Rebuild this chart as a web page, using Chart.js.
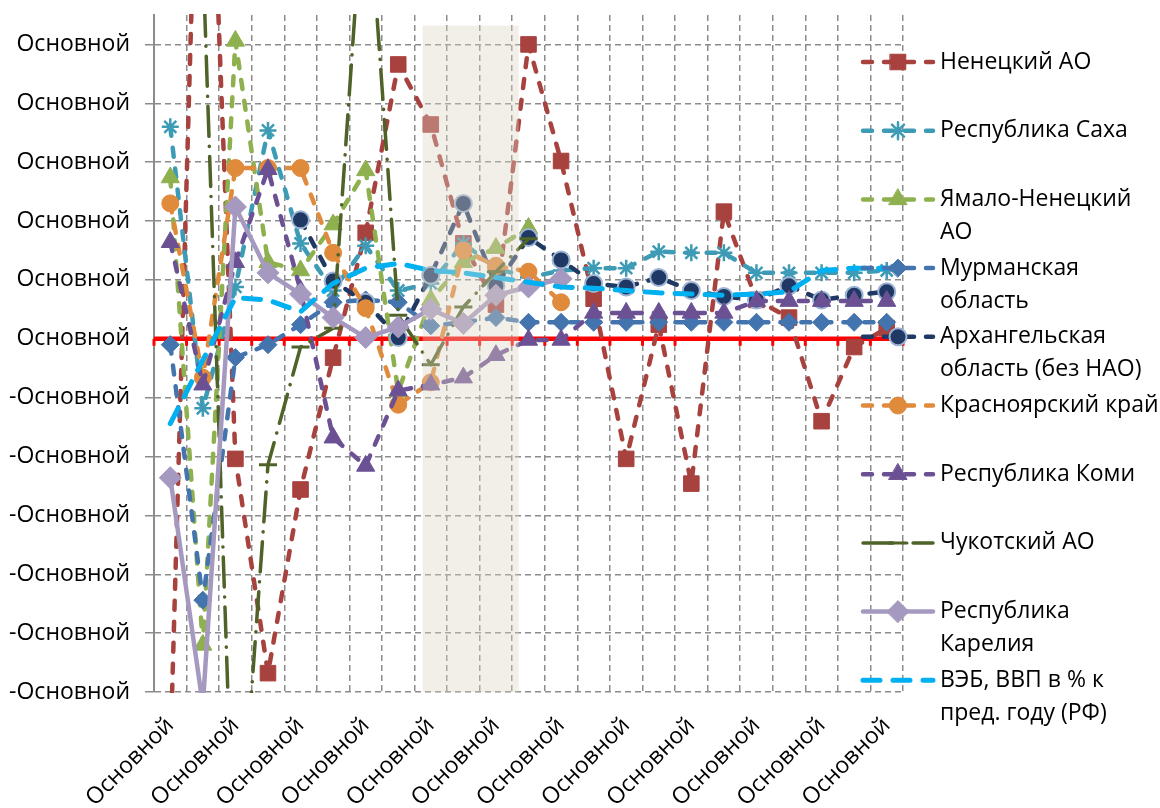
<!DOCTYPE html>
<html>
<head>
<meta charset="utf-8">
<script src="https://cdn.jsdelivr.net/npm/chart.js@4.4.0/dist/chart.umd.min.js"></script>
<style>
  html, body { margin: 0; padding: 0; background: #fff; }
  #wrap { width: 1160px; height: 808px; position: relative; }
</style>
</head>
<body>
<div id="wrap"><canvas id="myChart"></canvas></div>
<script>
// categories (labels are shown as "Основной" in the source, every 2nd one)
var categories = ["Основной","Основной","Основной","Основной","Основной","Основной",
  "Основной","Основной","Основной","Основной","Основной","Основной","Основной",
  "Основной","Основной","Основной","Основной","Основной","Основной","Основной",
  "Основной","Основной","Основной"];

// series values..................
var nenets = [-35.5, 62, -10.2, -28.4, -12.8, -1.6, 9.0, 23.3, 18.2, 8.1, 2.9, 25.0,
  15.1, 3.4, -10.2, 1.2, -12.3, 10.8, 3.3, 1.8, -7.0, -0.7, 0.9];
var sakha = [18.0, -5.9, 4.4, 17.7, 8.1, 4.1, 7.9, 4.1, 4.7, 8.1, 6.0, 5.2,
  5.8, 6.0, 6.0, 7.4, 7.3, 7.3, 5.6, 5.6, 5.6, 5.6, 5.8];
var yamal = [13.7, -26.0, 25.3, 6.5, 5.8, 9.7, 14.3, -4.5, 3.3, 6.5, 7.7, 9.4];
var murmansk = [-0.5, -22.2, -1.6, -0.5, 1.2, 3.1, 3.3, 3.1, 1.1, 1.4, 1.8, 1.4,
  1.4, 1.4, 1.4, 1.4, 1.4, 1.4, 1.4, 1.4, 1.4, 1.4, 1.4];
var arkhangelsk = [null, null, null, null, 10.1, 4.9, 3.1, 0.1, 5.4, 11.5, 4.5, 8.6,
  6.7, 4.7, 4.4, 5.2, 4.1, 3.6, 3.3, 4.5, 3.3, 3.7, 4.0];
var krasnoyarsk = [11.5, -3.3, 14.5, 14.5, 14.5, 7.3, 2.6, -5.6, -3.7, 7.5, 6.2, 5.7, 3.1];
var komi = [8.2, -3.9, 6.5, 14.4, 4.1, -8.4, -10.8, -4.4, -3.9, -3.3, -1.4, -0.1,
  -0.1, 2.2, 2.2, 2.2, 2.2, 2.2, 3.2, 3.2, 3.2, 3.2, 3.2];
var chukotka = [null, 32.5, -48.9, -10.7, -0.7, 0.9, 40.9, 2.0, -2.2, 2.7, 5.7, 8.5];
var karelia = [-11.8, -31.1, 11.2, 5.6, 3.8, 1.8, 0.1, 1.0, 2.5, 1.3, 3.7, 4.4, 5.1];
var veb = [-7.2, -1.8, 3.5, 3.3, 2.3, 4.7, 6.0, 6.4, 5.8, 5.6, 5.2, 4.8,
  4.4, 4.3, 4.1, 3.9, 3.8, 3.7, 3.8, 4.0, 5.8, 6.0, 6.0];

// shaded period (category units) and its top (value units)
var shadeFrom = 7.75;
var shadeTo = 10.7;
var shadeTop = 26.6;

var FONT = '"Open Sans", "Noto Sans", sans-serif';
var FONT_SIZE = 23;
var GRID = '#8c8c8c';

function series(label, data, color, style, extra) {
  var ds = {
    label: label,
    data: data,
    borderColor: color,
    backgroundColor: color,
    borderWidth: 4.5,
    borderDash: [9, 12],
    borderCapStyle: 'round',
    borderJoinStyle: 'round',
    pointStyle: style,
    pointRadius: 8,
    pointBackgroundColor: color,
    pointBorderColor: color,
    pointBorderWidth: 1,
    tension: 0,
    spanGaps: false,
    clip: 1
  };
  for (var k in extra) ds[k] = extra[k];
  return ds;
}

var datasets = [
  series('Ненецкий АО', nenets, '#A8423F', 'rect', {pointRadius: 11}),
  series('Республика Саха', sakha, '#3D9BB6', 'star', {pointRadius: 8.5, pointBorderWidth: 2.5}),
  series('Ямало-Ненецкий АО', yamal, '#8EB04E', 'triangle', {pointRadius: 10.5}),
  series('Мурманская область', murmansk, '#4474AE', 'rectRot', {pointRadius: 9}),
  series('Архангельская область (без НАО)', arkhangelsk, '#1F3864', 'circle',
    {pointRadius: 8.5, pointBorderColor: '#9DB3D3', pointBorderWidth: 2}),
  series('Красноярский край', krasnoyarsk, '#E08A3C', 'circle', {pointRadius: 8.5}),
  series('Республика Коми', komi, '#6B5194', 'triangle', {pointRadius: 10.5}),
  series('Чукотский АО', chukotka, '#4F6228', 'line',
    {borderWidth: 3.5, borderDash: [30, 10, 0.1, 10], pointRadius: 9, pointBorderWidth: 3}),
  series('Республика Карелия', karelia, '#A599C0', 'rectRot',
    {borderWidth: 4.5, borderDash: [], pointRadius: 11}),
  series('ВЭБ, ВВП в % к пред. году (РФ)', veb, '#00B0F0', 'circle',
    {borderWidth: 5, borderDash: [17, 13], pointRadius: 0})
];
// Excel style: later series on top
datasets.forEach(function (d, i) { d.order = datasets.length - i; });

// red zero axis with tick marks
var zeroAxis = {
  id: 'zeroAxis',
  beforeDatasetsDraw: function (chart) {
    var ctx = chart.ctx, xs = chart.scales.x, ys = chart.scales.y, area = chart.chartArea;
    var y0 = ys.getPixelForValue(0);
    ctx.save();
    ctx.strokeStyle = '#FF0000';
    ctx.lineWidth = 4.5;
    ctx.beginPath();
    ctx.moveTo(area.left, y0);
    ctx.lineTo(area.right, y0);
    ctx.stroke();
    ctx.lineWidth = 3;
    for (var i = 0; i <= categories.length; i++) {
      var x = xs.getPixelForValue(i - 0.5);
      ctx.beginPath();
      ctx.moveTo(x, y0);
      ctx.lineTo(x, y0 + 7);
      ctx.stroke();
    }
    ctx.restore();
  }
};

// shaded period drawn over the lines
var shade = {
  id: 'shade',
  afterDatasetsDraw: function (chart) {
    var ctx = chart.ctx, xs = chart.scales.x, ys = chart.scales.y, area = chart.chartArea;
    var xa = xs.getPixelForValue(shadeFrom), xb = xs.getPixelForValue(shadeTo);
    var yt = ys.getPixelForValue(shadeTop);
    ctx.save();
    ctx.fillStyle = 'rgba(222,213,194,0.38)';
    ctx.fillRect(xa, yt, xb - xa, area.bottom - yt);
    ctx.restore();
  }
};

function wrapText(ctx, text, maxW) {
  var words = text.split(' '), lines = [], cur = '';
  words.forEach(function (w) {
    var test = cur ? cur + ' ' + w : w;
    if (ctx.measureText(test).width > maxW && cur) {
      lines.push(cur);
      cur = w;
    } else {
      cur = test;
    }
  });
  if (cur) lines.push(cur);
  return lines;
}

// legend on the right
var sideLegend = {
  id: 'sideLegend',
  afterDraw: function (chart) {
    var ctx = chart.ctx;
    var x0 = 863, x1 = 933, tx = 940;
    ctx.save();
    ctx.font = FONT_SIZE + 'px ' + FONT;
    ctx.textBaseline = 'middle';
    chart.data.datasets.forEach(function (ds, i) {
      var y = 62 + i * 68.7;
      ctx.strokeStyle = ds.borderColor;
      ctx.lineWidth = ds.borderWidth;
      ctx.lineCap = 'round';
      ctx.setLineDash(ds.borderDash || []);
      ctx.beginPath();
      ctx.moveTo(x0, y);
      ctx.lineTo(x1, y);
      ctx.stroke();
      ctx.setLineDash([]);
      if (ds.pointRadius > 0) {
        ctx.fillStyle = ds.pointBackgroundColor;
        ctx.strokeStyle = ds.pointBorderColor;
        ctx.lineWidth = ds.pointBorderWidth;
        Chart.helpers.drawPoint(ctx, {
          pointStyle: ds.pointStyle, radius: ds.pointRadius,
          rotation: 0, borderWidth: ds.pointBorderWidth
        }, (x0 + x1) / 2, y);
      }
      ctx.fillStyle = '#000';
      wrapText(ctx, ds.label, 222).forEach(function (ln, k) {
        ctx.fillText(ln, tx, y + k * 33);
      });
    });
    ctx.restore();
  }
};

new Chart("myChart", {
  type: 'line',
  data: { labels: categories, datasets: datasets },
  plugins: [zeroAxis, shade, sideLegend],
  options: {
    responsive: true,
    maintainAspectRatio: false,
    animation: false,
    layout: { padding: { top: 15, right: 257, left: 0, bottom: 0 } },
    plugins: {
      legend: { display: false },
      tooltip: { enabled: false }
    },
    scales: {
      x: {
        offset: true,
        grid: { offset: true, color: GRID, lineWidth: 1.5, drawTicks: false },
        border: { display: false, dash: [6, 4] },
        ticks: {
          autoSkip: false,
          minRotation: 45,
          maxRotation: 45,
          padding: 20,
          color: '#000',
          font: { family: FONT, size: FONT_SIZE },
          callback: function (val, i) { return i % 2 === 0 ? this.getLabelForValue(val) : ''; }
        },
        afterFit: function (s) { s.height = 116; s.paddingLeft = 0; s.paddingRight = 0; }
      },
      y: {
        min: -30,
        max: 27.5,
        grid: {
          color: function (c) { return c.tick && c.tick.value === 0 ? 'rgba(0,0,0,0)' : GRID; },
          lineWidth: 1.5,
          drawTicks: true,
          tickLength: 9
        },
        border: { display: true, color: GRID, width: 2, dash: [6, 4] },
        ticks: {
          stepSize: 5,
          includeBounds: false,
          padding: 15,
          color: '#000',
          font: { family: FONT, size: FONT_SIZE },
          callback: function (v) { return v < 0 ? '-Основной' : 'Основной'; }
        },
        afterFit: function (s) { s.width = 154; s.paddingTop = 0; s.paddingBottom = 0; }
      }
    }
  }
});
</script>
</body>
</html>
